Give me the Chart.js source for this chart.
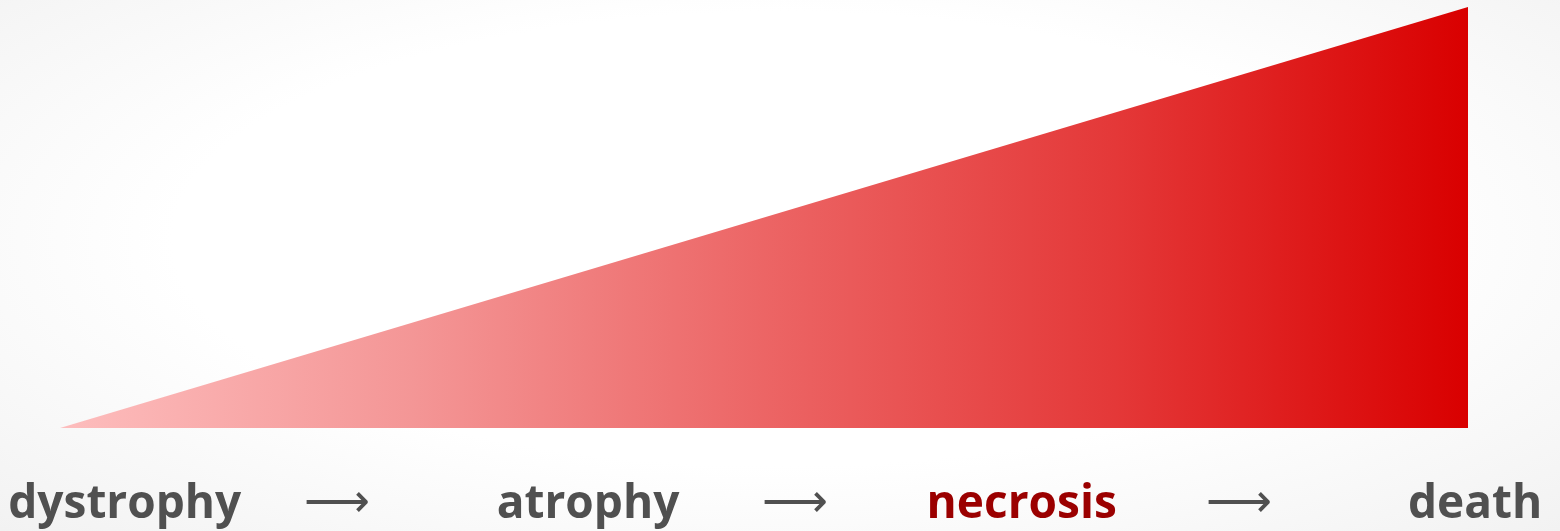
<!DOCTYPE html>
<html>
<head>
<meta charset="utf-8">
<script src="https://cdn.jsdelivr.net/npm/chart.js@4/dist/chart.umd.min.js"></script>
<style>
html, body { margin: 0; padding: 0; }
body {
    width: 1560px; height: 531px; overflow: hidden;
    background: radial-gradient(ellipse at 50% 45%, #ffffff 55%, #f2f2f2 100%);
}
</style>
</head>
<body>
<canvas id="grafico" width="1560" height="531"></canvas>
<script>
// Etapas que se muestran bajo la cuña (etiquetas del eje x)
const etapas = ["dystrophy", "⟶", "atrophy", "⟶", "necrosis", "⟶", "death"];
// Posición de cada etiqueta, en unidades del eje x
const posEtapas = [4.6, 19.7, 37.5, 52.2, 68.3, 83.7, 100.5];
// La serie: el daño crece de 0 a 100
const gradoX = [0, 100];
const gradoY = [0, 100];
// Colores del degradado, de izquierda a derecha
const coloresCuna = ["#fdbdbd", "#f49696", "#ec6565", "#e43838", "#d90000"];

const puntos = gradoX.map((x, i) => ({ x: x, y: gradoY[i] }));

// Degradado horizontal entre el primer y el último punto
function rellenoCuna(ctx) {
    const chart = ctx.chart;
    if (!chart.chartArea) return coloresCuna[0];
    const sx = chart.scales.x;
    const x0 = sx.getPixelForValue(gradoX[0]);
    const x1 = sx.getPixelForValue(gradoX[gradoX.length - 1]);
    const g = chart.ctx.createLinearGradient(x0, 0, x1, 0);
    coloresCuna.forEach((c, i) => g.addColorStop(i / (coloresCuna.length - 1), c));
    return g;
}

new Chart(document.getElementById("grafico"), {
    type: "line",
    data: {
        datasets: [{
            label: "daño",
            data: puntos,
            fill: "origin",
            backgroundColor: rellenoCuna,
            borderWidth: 0,
            borderColor: "rgba(0,0,0,0)",
            pointRadius: 0,
            tension: 0,
            clip: false,
        }],
    },
    options: {
        responsive: false,
        animation: false,
        devicePixelRatio: 1,
        layout: { padding: { top: 7, left: 0, right: 0, bottom: 0 } },
        plugins: { legend: { display: false }, tooltip: { enabled: false } },
        scales: {
            x: {
                type: "linear",
                min: -4.26,
                max: 106.53,
                grid: { display: false, drawTicks: false },
                border: { display: false },
                afterBuildTicks: (s) => { s.ticks = posEtapas.map((v) => ({ value: v })); },
                afterFit: (s) => {
                    // el área del gráfico ocupa todo el ancho
                    s.height = 103;
                    s.paddingLeft = 0;
                    s.paddingRight = 0;
                },
                ticks: {
                    autoSkip: false,
                    maxRotation: 0,
                    padding: 49,
                    callback: (v, i) => etapas[i],
                    color: (c) => etapas[c.index] === "necrosis" ? "#9b0000" : "#505050",
                    font: (c) => etapas[c.index] === "⟶"
                        ? { family: "DejaVu Sans", size: 46, weight: 200 }
                        : { family: "Open Sans", size: 46, weight: "bold" },
                },
            },
            y: {
                display: false,
                min: 0,
                max: 100,
            },
        },
    },
});
</script>
</body>
</html>
